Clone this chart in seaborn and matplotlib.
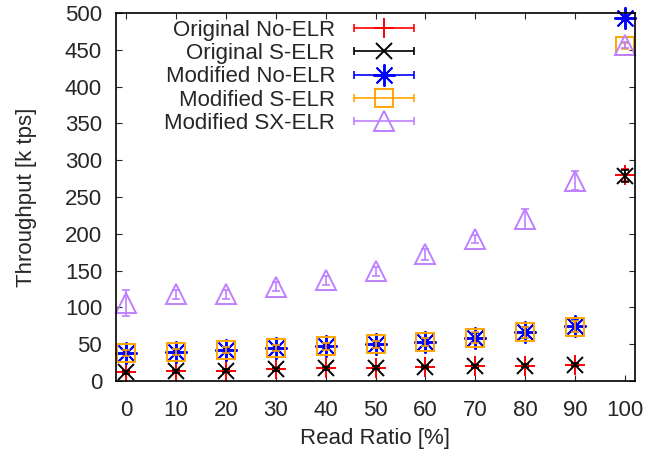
import matplotlib
matplotlib.use("Agg")
import matplotlib.pyplot as plt
from matplotlib.container import ErrorbarContainer
from matplotlib.legend_handler import HandlerErrorbar
import seaborn as sns
import numpy as np

# read ratio [%]
read_ratio = [0, 10, 20, 30, 40, 50, 60, 70, 80, 90, 100]

# throughput [k tps] and error bars
orig_no_elr = [12, 13, 14, 16, 17, 18, 19, 20, 21, 22, 280]
orig_no_elr_err = [2, 2, 2, 2, 2, 2, 2, 2, 2, 2, 8]
orig_s_elr = [12, 13, 14, 16, 17, 18, 19, 20, 21, 22, 279]
orig_s_elr_err = [2, 2, 2, 2, 2, 2, 2, 2, 2, 2, 8]
mod_no_elr = [38, 40, 42, 45, 47, 50, 53, 59, 66, 75, 493]
mod_no_elr_err = [4, 4, 4, 4, 4, 5, 5, 6, 7, 8, 4]
mod_s_elr = [38, 40, 42, 45, 47, 50, 53, 59, 66, 74, 455]
mod_s_elr_err = [4, 4, 4, 4, 5, 5, 6, 7, 8, 8, 4]
mod_sx_elr = [106, 118, 118, 128, 137, 149, 172, 193, 220, 272, 456]
mod_sx_elr_err = [18, 6, 6, 6, 6, 6, 8, 6, 14, 13, 4]

series_names = ["Original No-ELR", "Original S-ELR", "Modified No-ELR",
                "Modified S-ELR", "Modified SX-ELR"]

sns.set_style("ticks")
plt.rcParams["font.family"] = ["Liberation Sans", "DejaVu Sans"]
plt.rcParams["font.size"] = 16

fig = plt.figure(figsize=(6.67, 4.55), dpi=100)
ax = fig.add_axes([116 / 667, 1 - 381 / 455, (635 - 116) / 667, (381 - 13) / 455])

series = [
    (orig_no_elr, orig_no_elr_err, "#ff0000", "+", 15, True),
    (orig_s_elr, orig_s_elr_err, "#000000", "x", 12, True),
    (mod_no_elr, mod_no_elr_err, "#0000ff", (8, 2, 0), 16, True),
    (mod_s_elr, mod_s_elr_err, "#ffa500", "s", 13, False),
    (mod_sx_elr, mod_sx_elr_err, "#bf80ff", "^", 14, False),
]

handles = []
for name, (vals, err, col, mk, ms, filled) in zip(series_names, series):
    ax.errorbar(read_ratio, vals, yerr=err, fmt="none", ecolor=col,
                elinewidth=1.2, capsize=3, capthick=1.2, clip_on=False)
    ax.plot(read_ratio, vals, linestyle="none", marker=mk, markersize=ms,
            color=col, markerfacecolor="none", markeredgewidth=1.4,
            clip_on=False)
    # dummy handle with horizontal bar, like the gnuplot key
    h = ax.errorbar([np.nan], [np.nan], xerr=[1], fmt="none", ecolor=col,
                    elinewidth=1.2, capsize=3, capthick=1.2)
    ln, = ax.plot([], [], linestyle="none", marker=mk, markersize=ms,
                  color=col, markerfacecolor="none", markeredgewidth=1.4)
    handles.append((h, ln))

ax.set_xlim(-2, 102)
ax.set_ylim(0, 500)
ax.set_xticks(read_ratio)
ax.set_yticks(range(0, 501, 50))
ax.tick_params(direction="in", top=True, right=True, length=4, labelsize=16)
ax.tick_params(axis="x", pad=14)
ax.tick_params(axis="y", pad=10)
for s in ax.spines.values():
    s.set_linewidth(1.2)
    s.set_color("black")
ax.set_xlabel("Read Ratio [%]", fontsize=16, labelpad=5)
ax.set_ylabel("Throughput [k tps]", fontsize=16, labelpad=20)

leg = fig.legend(handles, series_names, loc="upper right",
                 bbox_to_anchor=(415 / 667, 1 - 20 / 455), frameon=False,
                 markerfirst=False, handlelength=2.8, handletextpad=0.8,
                 labelspacing=0.10, borderpad=0, borderaxespad=0,
                 fontsize=16,
                 handler_map={ErrorbarContainer: HandlerErrorbar(xerr_size=1.35)})

fig.savefig("out.png", dpi=100)
